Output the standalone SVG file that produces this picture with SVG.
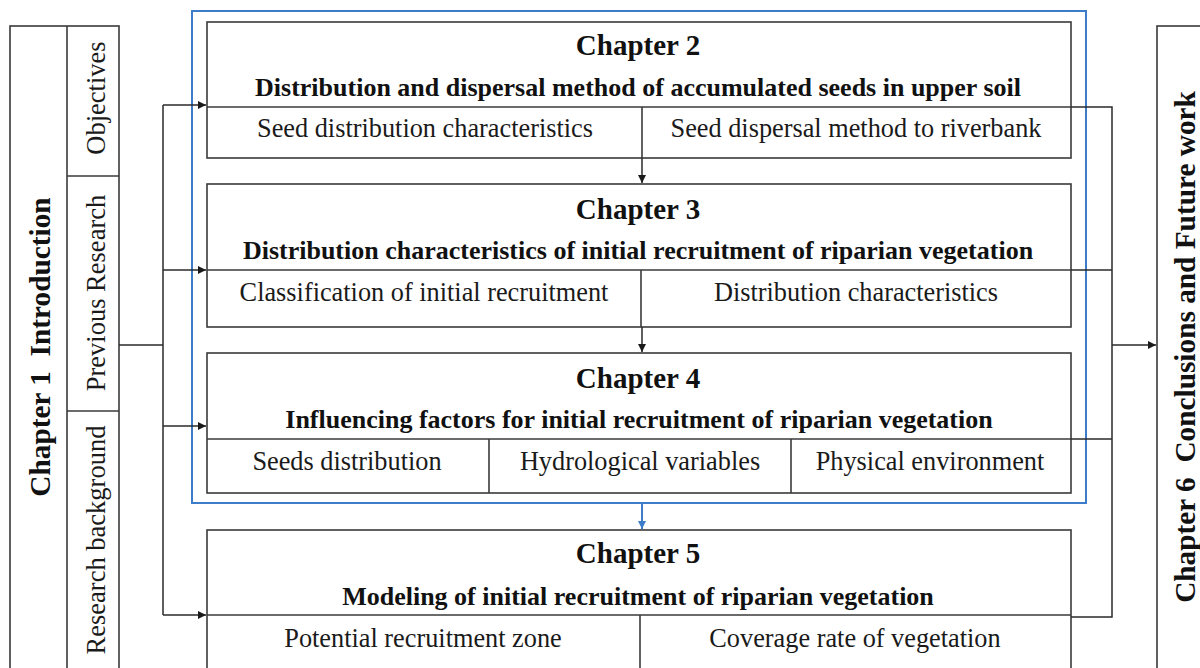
<svg xmlns="http://www.w3.org/2000/svg" width="1200" height="668" viewBox="0 0 1200 668">
  <style>
    .box { fill: #ffffff; stroke: #3a3a3a; stroke-width: 1.6; }
    .div { fill: none; stroke: #3a3a3a; stroke-width: 1.6; }
    .conn { fill: none; stroke: #2a2a2a; stroke-width: 1.5; }
    .blue { fill: none; stroke: #3d7cc9; stroke-width: 2; }
    .head { font-family: "Liberation Serif", "Times New Roman", serif; font-weight: bold; font-size: 29px; fill: #111; text-anchor: middle; }
    .sub { font-family: "Liberation Serif", "Times New Roman", serif; font-weight: bold; font-size: 26px; fill: #111; text-anchor: middle; }
    .item { font-family: "Liberation Serif", "Times New Roman", serif; font-size: 26.3px; fill: #1a1a1a; text-anchor: middle; }
    .side { font-family: "Liberation Serif", "Times New Roman", serif; font-size: 26.5px; fill: #1a1a1a; text-anchor: middle; }
    .sidehead { font-family: "Liberation Serif", "Times New Roman", serif; font-weight: bold; font-size: 29.3px; fill: #111; text-anchor: middle; }
  </style>
  <defs>
    <marker id="arrow" viewBox="0 0 10 10" refX="10" refY="5" markerWidth="9" markerHeight="8" markerUnits="userSpaceOnUse" orient="auto">
      <path d="M0,0 L10,5 L0,10 z" fill="#1a1a1a"/>
    </marker>
    <marker id="arrowBlue" viewBox="0 0 10 10" refX="10" refY="5" markerWidth="9" markerHeight="8" markerUnits="userSpaceOnUse" orient="auto">
      <path d="M0,0 L10,5 L0,10 z" fill="#3d7cc9"/>
    </marker>
  </defs>

  <rect width="1200" height="668" fill="#ffffff"/>

  <!-- Chapter 1 column -->
  <g id="chapter1">
    <rect class="box" x="10" y="26" width="109" height="660"/>
    <line class="div" x1="67" y1="26" x2="67" y2="668"/>
    <line class="div" x1="67" y1="176" x2="119" y2="176"/>
    <line class="div" x1="67" y1="411" x2="119" y2="411"/>
    <text class="sidehead" transform="translate(50,347) rotate(-90)">Chapter 1&#160; Introduction</text>
    <text class="side" transform="translate(105,98) rotate(-90)">Objectives</text>
    <text class="side" transform="translate(105,293) rotate(-90)">Previous Research</text>
    <text class="side" transform="translate(105,540) rotate(-90)">Research background</text>
  </g>

  <!-- Group outline around chapters 2-4 -->
  <rect id="core-frame" class="blue" x="192" y="11" width="894" height="492"/>

  <!-- Chapter 2 -->
  <g id="chapter2">
    <rect class="box" x="207" y="22" width="864" height="136"/>
    <line class="div" x1="207" y1="107" x2="1071" y2="107"/>
    <line class="div" x1="642" y1="107" x2="642" y2="158"/>
    <text class="head" x="638" y="55">Chapter 2</text>
    <text class="sub" x="638" y="96">Distribution and dispersal method of accumulated seeds in upper soil</text>
    <text class="item" x="425" y="137">Seed distribution characteristics</text>
    <text class="item" x="856" y="137">Seed dispersal method to riverbank</text>
  </g>

  <!-- Chapter 3 -->
  <g id="chapter3">
    <rect class="box" x="207" y="184" width="864" height="143"/>
    <line class="div" x1="207" y1="270" x2="1071" y2="270"/>
    <line class="div" x1="641" y1="270" x2="641" y2="327"/>
    <text class="head" x="638" y="219">Chapter 3</text>
    <text class="sub" x="638" y="259">Distribution characteristics of initial recruitment of riparian vegetation</text>
    <text class="item" x="424" y="301">Classification of initial recruitment</text>
    <text class="item" x="856" y="301">Distribution characteristics</text>
  </g>

  <!-- Chapter 4 -->
  <g id="chapter4">
    <rect class="box" x="207" y="353" width="864" height="140"/>
    <line class="div" x1="207" y1="439" x2="1071" y2="439"/>
    <line class="div" x1="489" y1="439" x2="489" y2="493"/>
    <line class="div" x1="791" y1="439" x2="791" y2="493"/>
    <text class="head" x="638" y="388">Chapter 4</text>
    <text class="sub" x="639" y="428">Influencing factors for initial recruitment of riparian vegetation</text>
    <text class="item" x="347" y="470">Seeds distribution</text>
    <text class="item" x="640" y="470">Hydrological variables</text>
    <text class="item" x="930" y="470">Physical environment</text>
  </g>

  <!-- Chapter 5 -->
  <g id="chapter5">
    <rect class="box" x="207" y="530" width="864" height="160"/>
    <line class="div" x1="207" y1="615" x2="1071" y2="615"/>
    <line class="div" x1="640" y1="615" x2="640" y2="668"/>
    <text class="head" x="638" y="563">Chapter 5</text>
    <text class="sub" x="638" y="605">Modeling of initial recruitment of riparian vegetation</text>
    <text class="item" x="423" y="647">Potential recruitment zone</text>
    <text class="item" x="855" y="647">Coverage rate of vegetation</text>
  </g>

  <!-- Chapter 6 column -->
  <g id="chapter6">
    <rect class="box" x="1157" y="26" width="80" height="660"/>
    <text class="sidehead" transform="translate(1195,347) rotate(-90)">Chapter 6&#160; Conclusions and Future work</text>
  </g>

  <!-- Connectors -->
  <g id="connectors">
    <!-- Chapter 1 fan-out -->
    <polyline class="conn" points="119,345 163,345"/>
    <line class="conn" x1="163" y1="105" x2="163" y2="615"/>
    <line class="conn" x1="163" y1="105" x2="206" y2="105" marker-end="url(#arrow)"/>
    <line class="conn" x1="163" y1="270" x2="206" y2="270" marker-end="url(#arrow)"/>
    <line class="conn" x1="163" y1="426" x2="206" y2="426" marker-end="url(#arrow)"/>
    <line class="conn" x1="163" y1="615" x2="206" y2="615" marker-end="url(#arrow)"/>

    <!-- Chapter sequence -->
    <line class="conn" x1="642" y1="158" x2="642" y2="183" marker-end="url(#arrow)"/>
    <line class="conn" x1="642" y1="327" x2="642" y2="352" marker-end="url(#arrow)"/>
    <line class="blue" x1="642" y1="503" x2="642" y2="529" marker-end="url(#arrowBlue)"/>

    <!-- Fan-in to Chapter 6 -->
    <polyline class="conn" points="1071,107 1112,107 1112,617 1071,617"/>
    <line class="conn" x1="1071" y1="270" x2="1112" y2="270"/>
    <line class="conn" x1="1071" y1="439" x2="1112" y2="439"/>
    <line class="conn" x1="1112" y1="345" x2="1156" y2="345" marker-end="url(#arrow)"/>
  </g>
</svg>
